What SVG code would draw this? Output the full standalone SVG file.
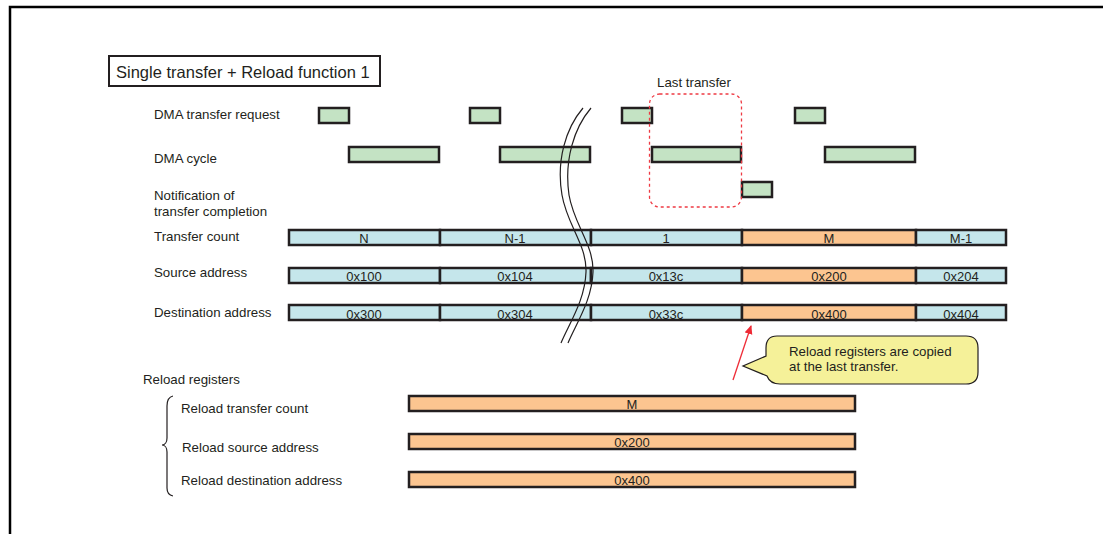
<svg xmlns="http://www.w3.org/2000/svg" width="1103" height="534" viewBox="0 0 1103 534">
<style>
text{font-family:"Liberation Sans",Arial,sans-serif;font-size:13.3px;fill:#231f20}
.c{text-anchor:middle;font-size:13px}
.g{fill:#c4e3c4;stroke:#231f20;stroke-width:2.5}
.b{fill:#c5e6eb;stroke:#231f20;stroke-width:2.5}
.o{fill:#fcc590;stroke:#231f20;stroke-width:2.5}
.brk{fill:none;stroke:#231f20;stroke-width:1.2}
</style>
<defs>
<marker id="ah" markerWidth="10" markerHeight="10" refX="8" refY="4" orient="auto" markerUnits="userSpaceOnUse">
<path d="M0,0 L9,4 L0,8 Z" fill="#ee2a35"/>
</marker>
</defs>
<g id="frame">
<path d="M10,534 V7 H1103" fill="none" stroke="#000" stroke-width="2.5"/>
</g>
<g id="title">
<rect x="109" y="56" width="271" height="30" fill="#fff" stroke="#231f20" stroke-width="2"/>
<text x="116" y="78" style="font-size:16.5px">Single transfer + Reload function 1</text>
</g>
<g id="labels">
<text x="154" y="119">DMA transfer request</text>
<text x="154" y="163">DMA cycle</text>
<text x="154" y="200">Notification of</text>
<text x="154" y="216">transfer completion</text>
<text x="154" y="241">Transfer count</text>
<text x="154" y="277">Source address</text>
<text x="154" y="317">Destination address</text>
<text x="657" y="87">Last transfer</text>
</g>
<g id="request">
<rect class="g" x="319" y="108" width="30" height="15"/>
<rect class="g" x="470" y="108" width="30" height="15"/>
<rect class="g" x="622" y="108" width="30" height="15"/>
<rect class="g" x="795" y="108" width="30" height="15"/>
</g>
<g id="cycle">
<rect class="g" x="349" y="147" width="90" height="15"/>
<rect class="g" x="500" y="147" width="90" height="15"/>
<rect class="g" x="652" y="147" width="89" height="15"/>
<rect class="g" x="825" y="147" width="90" height="15"/>
</g>
<g id="notification">
<rect class="g" x="742" y="182" width="30" height="15"/>
</g>
<g id="last-transfer">
<rect x="649.5" y="94" width="92" height="113" rx="10" fill="none" stroke="#ee3a43" stroke-width="1.3" stroke-dasharray="3,3"/>
</g>
<g id="transfer-count">
<rect class="b" x="289" y="230" width="151" height="15"/>
<rect class="b" x="440" y="230" width="151" height="15"/>
<rect class="b" x="591" y="230" width="151" height="15"/>
<rect class="o" x="742" y="230" width="174" height="15"/>
<rect class="b" x="916" y="230" width="90" height="15"/>
<text class="c" x="364" y="243">N</text>
<text class="c" x="515" y="243">N-1</text>
<text class="c" x="666" y="243">1</text>
<text class="c" x="829" y="243">M</text>
<text class="c" x="961" y="243">M-1</text>
</g>
<g id="source-address">
<rect class="b" x="289" y="268" width="151" height="15"/>
<rect class="b" x="440" y="268" width="151" height="15"/>
<rect class="b" x="591" y="268" width="151" height="15"/>
<rect class="o" x="742" y="268" width="174" height="15"/>
<rect class="b" x="916" y="268" width="90" height="15"/>
<text class="c" x="364" y="281">0x100</text>
<text class="c" x="515" y="281">0x104</text>
<text class="c" x="666" y="281">0x13c</text>
<text class="c" x="829" y="281">0x200</text>
<text class="c" x="961" y="281">0x204</text>
</g>
<g id="destination-address">
<rect class="b" x="289" y="305" width="151" height="15"/>
<rect class="b" x="440" y="305" width="151" height="15"/>
<rect class="b" x="591" y="305" width="151" height="15"/>
<rect class="o" x="742" y="305" width="174" height="15"/>
<rect class="b" x="916" y="305" width="90" height="15"/>
<text class="c" x="364" y="319">0x300</text>
<text class="c" x="515" y="319">0x304</text>
<text class="c" x="666" y="319">0x33c</text>
<text class="c" x="829" y="319">0x400</text>
<text class="c" x="961" y="319">0x404</text>
</g>
<g id="break">
<path class="brk" d="M583,108 C566,128 556,160 562,195 C567,225 587,245 586,272 C585,300 570,322 561,343"/>
<path class="brk" d="M591,108 C574,128 564,160 569,195 C574,225 594,245 593,272 C592,300 577,322 568,343"/>
</g>
<g id="connectors">
<line x1="733" y1="380" x2="751" y2="326" stroke="#ee2a35" stroke-width="1.3" marker-end="url(#ah)"/>
</g>
<g id="callout">
<path d="M777,336 H966 Q978,336 978,348 V372 Q978,384 966,384 H780 Q770,384 767,376 L743,366 L766,356 V348 Q766,336 777,336 Z" fill="#f5f199" stroke="#231f20" stroke-width="1.2"/>
<text x="789" y="356">Reload registers are copied</text>
<text x="789" y="371">at the last transfer.</text>
</g>
<g id="reload-registers">
<text x="143" y="384">Reload registers</text>
<path d="M173,396 C168,397 167,401 167,406 L167,438 C167,442 165,445 162,445 C165,445 167,448 167,452 L167,488 C167,492 168,495 173,496" fill="none" stroke="#231f20" stroke-width="1.2"/>
<text x="181" y="413">Reload transfer count</text>
<text x="182" y="452">Reload source address</text>
<text x="181" y="485">Reload destination address</text>
</g>
<g id="reload-bars">
<rect class="o" x="409" y="396" width="446" height="15"/>
<rect class="o" x="409" y="434" width="446" height="15"/>
<rect class="o" x="409" y="472" width="446" height="15"/>
<text class="c" x="632" y="409">M</text>
<text class="c" x="632" y="447">0x200</text>
<text class="c" x="632" y="485">0x400</text>
</g>
</svg>
